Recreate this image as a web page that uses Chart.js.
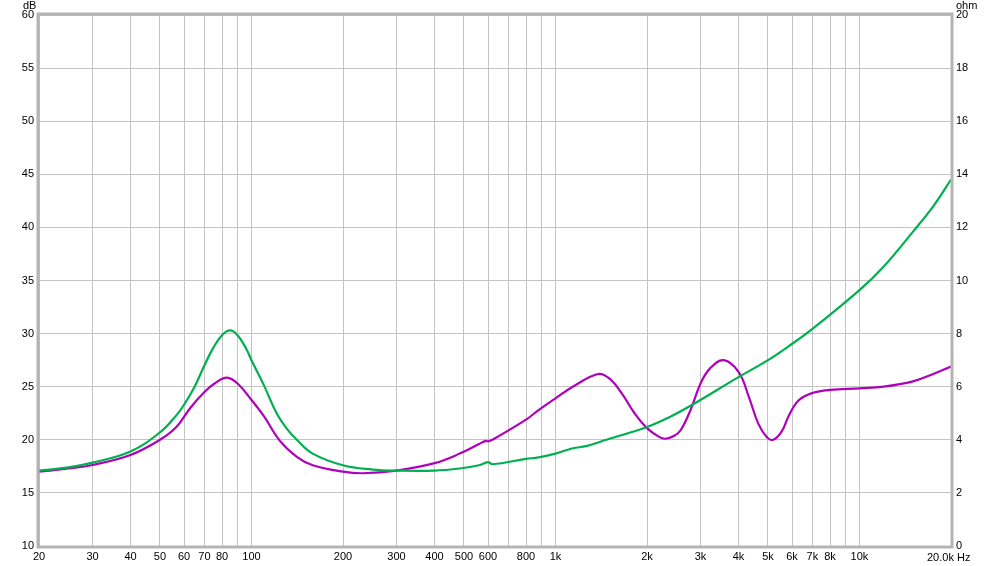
<!DOCTYPE html>
<html>
<head>
<meta charset="utf-8">
<script src="https://cdn.jsdelivr.net/npm/chart.js@4"></script>
<style>
  html, body { margin: 0; padding: 0; background: #fff; }
  #wrap { width: 1000px; height: 566px; }
</style>
</head>
<body>
<div id="wrap"><canvas id="c" width="1000" height="566"></canvas></div>
<script>
// frekuensi grid & label sumbu x
const xGrid = [20,30,40,50,60,70,80,90,100,200,300,400,500,600,700,800,900,
  1000,2000,3000,4000,5000,6000,7000,8000,9000,10000,20000];
const xLabels = {20:'20',30:'30',40:'40',50:'50',60:'60',70:'70',80:'80',100:'100',
  200:'200',300:'300',400:'400',500:'500',600:'600',800:'800',1000:'1k',2000:'2k',
  3000:'3k',4000:'4k',5000:'5k',6000:'6k',7000:'7k',8000:'8k',10000:'10k'};

// kurva hijau (dB)
const greenFreq = [20,25,30,40,50,56.6,60,65,70,75,80,85,90,96,100,110,121,131,141,159,200,250,300,400,484,560,
  600,620,800,880,1000,1140,1260,1470,2000,2360,2780,4000,5000,5840,6900,10000,12000,15000,17500,20000];
const greenDb = [17.1,17.4,17.85,18.9,20.7,22.3,23.3,25.0,27.0,28.7,29.85,30.3,29.85,28.6,27.5,25.1,22.5,21.0,20.0,18.7,17.6,17.2,17.1,17.1,17.3,17.6,
  17.9,17.7,18.2,18.35,18.7,19.2,19.4,20.0,21.2,22.1,23.2,25.9,27.5,28.8,30.3,34.1,36.3,39.6,42.0,44.5];

// kurva magenta (dB)
const magFreq = [20,25,30,40,50,56.6,62.9,70,76,83,90,100,110,124,141,159,200,232,300,400,484,560,590,
  600,620,800,880,1000,1140,1380,1500,1650,1820,2000,2200,2300,2450,2580,2780,3000,3220,3570,4000,4330,4650,
  4960,5200,5550,5840,6300,7000,8000,10000,12000,15000,17500,20000];
const magDb = [17.0,17.3,17.63,18.57,20.0,21.2,23.0,24.5,25.35,25.85,25.3,23.75,22.2,19.9,18.4,17.6,17.0,16.85,17.1,17.8,18.7,19.6,19.9,
  19.85,20.0,21.9,22.8,23.9,25.0,26.2,25.8,24.4,22.5,21.1,20.25,20.1,20.35,20.9,22.8,25.3,26.7,27.5,26.4,24.0,21.5,
  20.25,20.0,20.8,22.2,23.7,24.4,24.7,24.85,25.0,25.5,26.2,26.9];

const yTicksDb = [10,15,20,25,30,35,40,45,50,55,60];

const toPts = (fs, ys) => fs.map((f, i) => ({x: f, y: ys[i]}));
const FONT = '"Liberation Sans", Arial, sans-serif';

const frame = {
  id: 'frame',
  afterDraw(chart) {
    const {ctx, chartArea: a} = chart;
    ctx.save();
    ctx.strokeStyle = '#b4b4b4';
    ctx.lineWidth = 3;
    ctx.strokeRect(a.left - 1, a.top - 1, a.right - a.left + 2, a.bottom - a.top + 2);
    ctx.fillStyle = '#000';
    ctx.font = '11px ' + FONT;
    ctx.textBaseline = 'alphabetic';
    ctx.textAlign = 'left';
    ctx.fillText('dB', 23, 9);
    ctx.fillText('ohm', a.right + 5, 9);
    ctx.fillText('20.0k Hz', 927, 561);
    ctx.restore();
  }
};

new Chart(document.getElementById('c'), {
  type: 'line',
  data: {
    datasets: [
      { data: toPts(greenFreq, greenDb), borderColor: '#00b050', borderWidth: 2.2,
        pointRadius: 0, tension: 0.4, yAxisID: 'y' },
      { data: toPts(magFreq, magDb), borderColor: '#b000bc', borderWidth: 2.2,
        pointRadius: 0, tension: 0.4, yAxisID: 'y' }
    ]
  },
  options: {
    responsive: false,
    animation: false,
    parsing: false,
    layout: { padding: { top: 15, left: 0, right: 0, bottom: 0 } },
    plugins: { legend: { display: false }, tooltip: { enabled: false } },
    scales: {
      x: {
        type: 'logarithmic', min: 20, max: 20000,
        afterBuildTicks: s => { s.ticks = xGrid.map(v => ({ value: v })); },
        afterFit: s => { s.height = 20; },
        grid: { color: '#c4c4c4', lineWidth: 1, drawTicks: false },
        border: { display: false },
        ticks: {
          autoSkip: false, maxRotation: 0, padding: 4, color: '#000',
          font: { family: FONT, size: 11 },
          callback: v => xLabels[v] || ''
        }
      },
      y: {
        position: 'left', min: 10, max: 60,
        afterBuildTicks: s => { s.ticks = yTicksDb.map(v => ({ value: v })); },
        afterFit: s => { s.width = 39; },
        grid: { color: '#c4c4c4', lineWidth: 1, drawTicks: false },
        border: { display: false },
        ticks: { padding: 5, color: '#000', font: { family: FONT, size: 11 } }
      },
      y2: {
        position: 'right', min: 0, max: 20,
        ticks: { stepSize: 2, padding: 5, color: '#000', font: { family: FONT, size: 11 } },
        afterFit: s => { s.width = 49; },
        grid: { display: false, drawTicks: false },
        border: { display: false }
      }
    }
  },
  plugins: [frame]
});
</script>
</body>
</html>
